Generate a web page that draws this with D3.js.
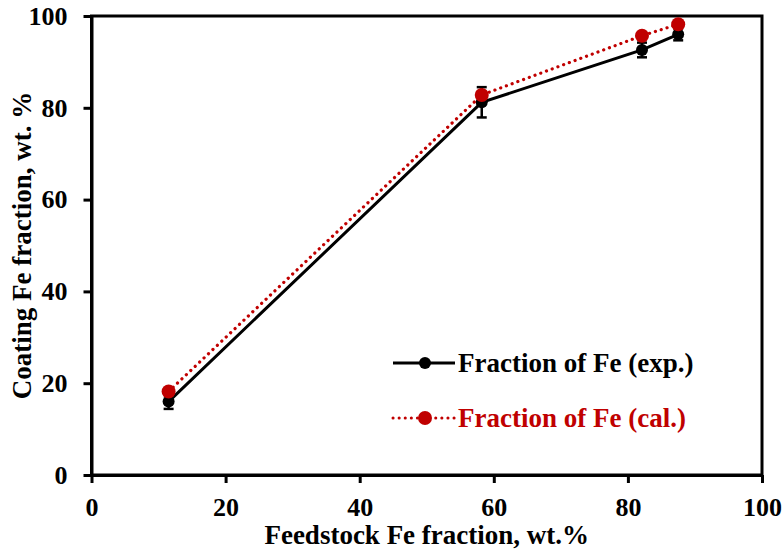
<!DOCTYPE html>
<html>
<head>
<meta charset="utf-8">
<script src="https://cdn.jsdelivr.net/npm/d3@7"></script>
<style>
  html, body { margin: 0; padding: 0; background: #fff; }
  svg { display: block; }
  text { font-family: "Liberation Serif", "Times New Roman", serif; font-weight: bold; }
</style>
</head>
<body>
<div id="chart"></div>
<script>
// feedstock Fe fraction (wt.%)
const feedFe = [11.5, 58.2, 82.1, 87.5];
// measured coating Fe fraction + error
const expFe = [16.0, 81.2, 92.6, 96.0];
const expErr = [1.6, 3.3, 1.6, 1.3];
// calculated coating Fe fraction
const calFe = [18.2, 82.8, 95.7, 98.2];

const xTicks = [0, 20, 40, 60, 80, 100];
const yTicks = [0, 20, 40, 60, 80, 100];

const W = 783, H = 552;
const margin = { top: 16, right: 21, bottom: 77, left: 91.5 };
const width = W - margin.left - margin.right,
    height = H - margin.top - margin.bottom;

const red = "#c00000";

const svg = d3.select("#chart").append("svg")
    .attr("width", W)
    .attr("height", H);

const chart = svg.append("g")
    .attr("transform", `translate(${margin.left},${margin.top})`);

const x = d3.scaleLinear().domain([0, 100]).range([0, width]);
const y = d3.scaleLinear().domain([0, 100]).range([height, 0]);

// frame
chart.append("rect")
    .attr("width", width)
    .attr("height", height)
    .attr("fill", "none")
    .attr("stroke", "#000")
    .attr("stroke-width", 3);

const xAxis = chart.append("g")
    .attr("transform", `translate(0,${height})`)
    .call(d3.axisBottom(x).tickValues(xTicks).tickSize(8).tickSizeOuter(0).tickPadding(15));

const yAxis = chart.append("g")
    .call(d3.axisLeft(y).tickValues(yTicks).tickSize(8).tickSizeOuter(0).tickPadding(16));

[xAxis, yAxis].forEach(a => {
    a.select(".domain").attr("stroke-width", 3);
    a.selectAll(".tick line").attr("stroke-width", 3);
    a.selectAll(".tick text")
        .attr("fill", "#000")
        .style("font-size", "26px")
        .style("font-family", "'Liberation Serif', serif")
        .style("font-weight", "bold");
});

// axis titles
svg.append("text")
    .attr("x", margin.left + width / 2)
    .attr("y", 544)
    .attr("text-anchor", "middle")
    .style("font-size", "27px")
    .text("Feedstock Fe fraction, wt.%");

svg.append("text")
    .attr("transform", `translate(31,${margin.top + height / 2}) rotate(-90)`)
    .attr("text-anchor", "middle")
    .style("font-size", "27px")
    .text("Coating Fe fraction, wt. %");

const pts = feedFe.map((f, i) => ({ f, e: expFe[i], err: expErr[i], c: calFe[i] }));

// experimental line
chart.append("path")
    .datum(pts)
    .attr("fill", "none")
    .attr("stroke", "#000")
    .attr("stroke-width", 3)
    .attr("d", d3.line().x(d => x(d.f)).y(d => y(d.e)));

// error bars
const eb = chart.selectAll(".err").data(pts).enter().append("g").attr("class", "err");
eb.append("line")
    .attr("x1", d => x(d.f)).attr("x2", d => x(d.f))
    .attr("y1", d => y(d.e - d.err)).attr("y2", d => y(d.e + d.err))
    .attr("stroke", "#000").attr("stroke-width", 2.5);
eb.selectAll(".cap").data(d => [[d.f, d.e - d.err], [d.f, d.e + d.err]]).enter().append("line")
    .attr("x1", d => x(d[0]) - 5).attr("x2", d => x(d[0]) + 5)
    .attr("y1", d => y(d[1])).attr("y2", d => y(d[1]))
    .attr("stroke", "#000").attr("stroke-width", 2.5);

chart.selectAll(".expDot").data(pts).enter().append("circle")
    .attr("cx", d => x(d.f)).attr("cy", d => y(d.e))
    .attr("r", 6).attr("fill", "#000");

// calculated line
chart.append("path")
    .datum(pts)
    .attr("fill", "none")
    .attr("stroke", red)
    .attr("stroke-width", 3.2)
    .attr("stroke-linecap", "round")
    .attr("stroke-dasharray", "0.1 6")
    .attr("d", d3.line().x(d => x(d.f)).y(d => y(d.c)));

chart.selectAll(".calDot").data(pts).enter().append("circle")
    .attr("cx", d => x(d.f)).attr("cy", d => y(d.c))
    .attr("r", 7).attr("fill", red);

// legend
const legend = svg.append("g");
const rows = [
    { label: "Fraction of Fe (exp.)", color: "#000", dash: null, y: 363, r: 6 },
    { label: "Fraction of Fe (cal.)", color: red, dash: "0.1 6", y: 418, r: 7 }
];
rows.forEach(r => {
    legend.append("line")
        .attr("x1", 393).attr("x2", 455)
        .attr("y1", r.y).attr("y2", r.y)
        .attr("stroke", r.color)
        .attr("stroke-width", 3)
        .attr("stroke-linecap", r.dash ? "round" : "butt")
        .attr("stroke-dasharray", r.dash);
    legend.append("circle")
        .attr("cx", 425).attr("cy", r.y).attr("r", r.r).attr("fill", r.color);
    legend.append("text")
        .attr("x", 458).attr("y", r.y + 9)
        .attr("fill", r.color)
        .style("font-size", "27px")
        .text(r.label);
});
</script>
</body>
</html>
